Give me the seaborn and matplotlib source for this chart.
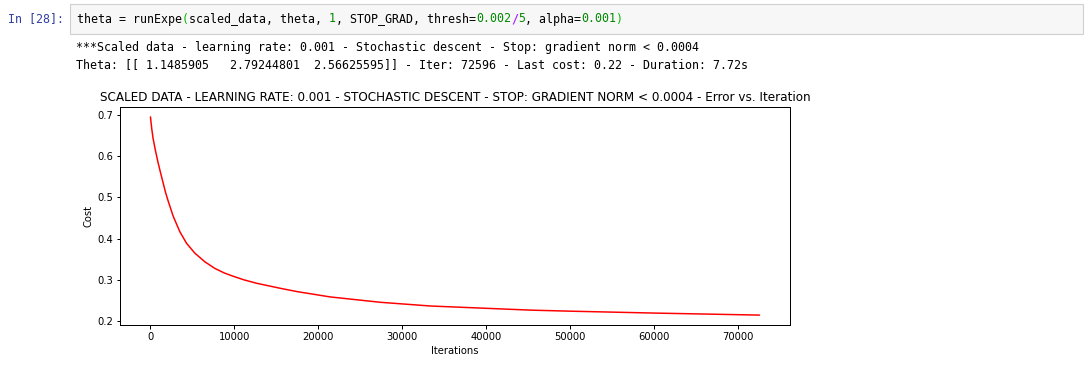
import matplotlib
matplotlib.use("Agg")
import matplotlib.pyplot as plt
from matplotlib.patches import Rectangle
import seaborn as sns
import pandas as pd

# ---- data ----
iterations = [0, 150, 311, 600, 900, 1200, 1500, 1800, 2100, 2700, 3500, 4300,
              5290, 6490, 7680, 8800, 9870, 11200, 12670, 15450, 17440, 21420,
              27400, 33370, 39340, 45320, 50000, 60000, 70000, 72595]
cost = [0.695, 0.667, 0.643, 0.613, 0.585, 0.560, 0.536, 0.512, 0.492, 0.455,
        0.417, 0.389, 0.365, 0.344, 0.328, 0.317, 0.309, 0.300, 0.292, 0.280,
        0.272, 0.259, 0.246, 0.237, 0.232, 0.227, 0.2245, 0.2199, 0.2160, 0.215]
x_ticks = [0, 10000, 20000, 30000, 40000, 50000, 60000, 70000]
y_ticks = [0.2, 0.3, 0.4, 0.5, 0.6, 0.7]

title = ("SCALED DATA - LEARNING RATE: 0.001 - STOCHASTIC DESCENT - "
         "STOP: GRADIENT NORM < 0.0004 - Error vs. Iteration")
prompt = "In [28]:"
code_segments = [
    ("theta = runExpe", "#000000", "normal"),
    ("(", "#00bb00", "normal"),
    ("scaled_data, theta, ", "#000000", "normal"),
    ("1", "#008800", "normal"),
    (", STOP_GRAD, thresh=", "#000000", "normal"),
    ("0.002", "#008800", "normal"),
    ("/", "#AA22FF", "bold"),
    ("5", "#008800", "normal"),
    (", alpha=", "#000000", "normal"),
    ("0.001", "#008800", "normal"),
    (")", "#00bb00", "normal"),
]
output_lines = [
    "***Scaled data - learning rate: 0.001 - Stochastic descent - Stop: gradient norm < 0.0004",
    "Theta: [[ 1.1485905   2.79244801  2.56625595]] - Iter: 72596 - Last cost: 0.22 - Duration: 7.72s",
]

# ---- figure ----
W, H, DPI = 1091, 365, 100
S = 0.72  # 72-dpi screenshot scale
sns.set_style("white")
plt.rcParams["font.family"] = ["DejaVu Sans"]

fig = plt.figure(figsize=(W / DPI, H / DPI), dpi=DPI)
fig.patch.set_facecolor("white")

def fx(px):
    return px / W

def fy(py):
    return 1 - py / H

mono = "DejaVu Sans Mono"
char_w = 7.0
mono_size = char_w / 0.602 * 72 / DPI

# code cell box
fig.patches.append(Rectangle((fx(70), fy(34)), fx(1083) - fx(70), fy(4) - fy(34),
                             transform=fig.transFigure, facecolor="#f7f7f7",
                             edgecolor="#cfcfcf", linewidth=0.8))
fig.text(fx(8), fy(19), prompt, family=mono, size=mono_size, color="#303F9F",
         va="center", ha="left")
pos = 0
for seg, col, wt in code_segments:
    fig.text(fx(77 + pos * char_w), fy(19), seg, family=mono, size=mono_size,
             color=col, weight=wt, va="center", ha="left")
    pos += len(seg)

for i, line in enumerate(output_lines):
    fig.text(fx(76), fy(47 + i * 18), line, family=mono, size=mono_size,
             color="#000000", va="center", ha="left")

# ---- chart ----
ax = fig.add_axes([fx(120), fy(325), fx(790) - fx(120), fy(107) - fy(325)])
df = pd.DataFrame({"Iterations": iterations, "Cost": cost})
sns.lineplot(data=df, x="Iterations", y="Cost", color="red", linewidth=1.5 * S, ax=ax)

ax.set_xticks(x_ticks)
ax.set_yticks(y_ticks)
ax.margins(x=0.05, y=0.05)
ax.set_title(title, fontsize=12 * S, pad=6 * S, color="black")
ax.set_xlabel("Iterations", fontsize=10 * S, labelpad=3.5 * S, color="black")
ax.set_ylabel("Cost", fontsize=10 * S, labelpad=3.5 * S, color="black")
ax.tick_params(axis="both", which="major", labelsize=10 * S, length=3.5 * S,
               width=1 * S, pad=3.5 * S, direction="out", colors="black",
               bottom=True, left=True)
for sp in ax.spines.values():
    sp.set_visible(True)
    sp.set_color("black")
    sp.set_linewidth(1 * S)
ax.set_facecolor("white")
ax.grid(False)

fig.savefig("out.png", dpi=DPI, facecolor="white")
